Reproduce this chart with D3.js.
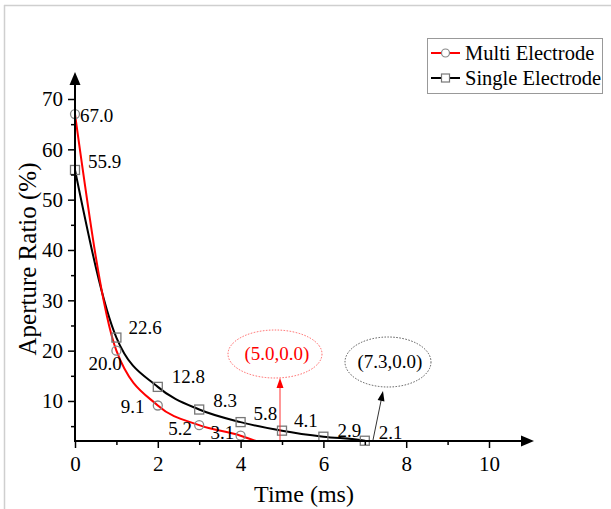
<!DOCTYPE html>
<html>
<head>
<meta charset="utf-8">
<script src="https://cdn.jsdelivr.net/npm/d3@7"></script>
<style>
  body { margin: 0; background: #fff; }
  text { font-family: "Liberation Serif", "Times New Roman", serif; }
</style>
</head>
<body>
<div id="chart"></div>
<script>
var w = 611;
var h = 509;

// data
var times = [0, 1, 2, 3, 4, 5, 6, 7];
var multiValues = [67.0, 20.0, 9.1, 5.2, 3.1];
var singleValues = [55.9, 22.6, 12.8, 8.3, 5.8, 4.1, 2.9, 2.1];
var multiZero = [5.0, 0.0];
var singleZero = [7.3, 0.0];
var xTicks = [0, 2, 4, 6, 8, 10];
var yTicks = [10, 20, 30, 40, 50, 60, 70];
var seriesNames = ["Multi Electrode", "Single Electrode"];

// where each value label sits relative to its point
var multiNudge = [[5, 8], [-28, 19], [-37, 7], [-31, 10], [-30, 3]];
var singleNudge = [[13, -2], [12, -4], [14, -4], [14, -3], [13, -2], [12, -4], [14, 0], [14, -2]];

var x = d3.scaleLinear().domain([0, 10]).range([75, 489]);
var y = d3.scaleLinear().domain([0, 70]).range([451.3, 99]);
var yBase = 2.05; // x axis crosses here

var svg = d3.select("#chart").append("svg")
  .attr("width", w)
  .attr("height", h);

// thin page frame
svg.append("line").attr("x1", 4).attr("x2", w).attr("y1", 5.5).attr("y2", 5.5)
  .attr("stroke", "#cfcfcf").attr("stroke-width", 1.5);
svg.append("line").attr("x1", 4.5).attr("x2", 4.5).attr("y1", 5).attr("y2", h)
  .attr("stroke", "#cfcfcf").attr("stroke-width", 1.5);

svg.append("clipPath").attr("id", "plotclip")
  .append("rect")
  .attr("x", x(0)).attr("y", 60)
  .attr("width", 470).attr("height", y(yBase) - 60);

var multiPts = multiValues.map(function(v, i) { return [times[i], v]; });
var singlePts = singleValues.map(function(v, i) { return [times[i], v]; });

var line = d3.line()
  .x(function(d) { return x(d[0]); })
  .y(function(d) { return y(d[1]); })
  .curve(d3.curveMonotoneX);

var curves = svg.append("g").attr("clip-path", "url(#plotclip)");
curves.append("path")
  .attr("d", line(singlePts.concat([singleZero])))
  .attr("fill", "none")
  .attr("stroke", "#000")
  .attr("stroke-width", 2);
curves.append("path")
  .attr("d", line(multiPts.concat([multiZero])))
  .attr("fill", "none")
  .attr("stroke", "#ff0000")
  .attr("stroke-width", 2);

// markers
svg.selectAll(".sq")
  .data(singlePts)
  .enter()
  .append("rect")
  .attr("x", function(d) { return x(d[0]) - 4.5; })
  .attr("y", function(d) { return y(d[1]) - 4.5; })
  .attr("width", 9)
  .attr("height", 9)
  .attr("fill", "none")
  .attr("stroke", "#777")
  .attr("stroke-width", 1.3);

svg.selectAll(".ci")
  .data(multiPts)
  .enter()
  .append("circle")
  .attr("cx", function(d) { return x(d[0]); })
  .attr("cy", function(d) { return y(d[1]); })
  .attr("r", 4.5)
  .attr("fill", "none")
  .attr("stroke", "#888")
  .attr("stroke-width", 1.3);

// axes
var xAxis = d3.axisBottom(x).tickValues(xTicks).tickSize(7).tickFormat(d3.format("d"));
var gx = svg.append("g").attr("transform", "translate(0," + y(yBase) + ")").call(xAxis);
gx.select(".domain").remove();
gx.selectAll(".tick line").attr("stroke-width", 1.5);
gx.selectAll(".tick text")
  .attr("font-size", 21)
  .attr("fill", "#000")
  .attr("dy", "0.95em");

var xMinor = d3.axisBottom(x).tickValues([1, 3, 5, 7, 9]).tickSize(4).tickFormat("");
var gxm = svg.append("g").attr("transform", "translate(0," + y(yBase) + ")").call(xMinor);
gxm.select(".domain").remove();
gxm.selectAll(".tick line").attr("stroke-width", 1.5);

var yAxis = d3.axisLeft(y).tickValues(yTicks).tickSize(7).tickFormat(d3.format("d"));
var gy = svg.append("g").attr("transform", "translate(" + x(0) + ",0)").call(yAxis);
gy.select(".domain").remove();
gy.selectAll(".tick line").attr("stroke-width", 1.5);
gy.selectAll(".tick text")
  .attr("font-size", 21)
  .attr("fill", "#000")
  .attr("x", -12);

var yMinor = d3.axisLeft(y).tickValues([5, 15, 25, 35, 45, 55, 65]).tickSize(4).tickFormat("");
var gym = svg.append("g").attr("transform", "translate(" + x(0) + ",0)").call(yMinor);
gym.select(".domain").remove();
gym.selectAll(".tick line").attr("stroke-width", 1.5);

// axis lines with arrow heads
svg.append("line")
  .attr("x1", x(0)).attr("x2", 524)
  .attr("y1", y(yBase)).attr("y2", y(yBase))
  .attr("stroke", "#000").attr("stroke-width", 2);
svg.append("path")
  .attr("d", "M521," + (y(yBase) - 5.5) + "L534," + y(yBase) + "L521," + (y(yBase) + 5.5) + "Z")
  .attr("fill", "#000");
svg.append("line")
  .attr("x1", x(0)).attr("x2", x(0))
  .attr("y1", y(yBase) + 1).attr("y2", 82)
  .attr("stroke", "#000").attr("stroke-width", 2);
svg.append("path")
  .attr("d", "M" + (x(0) - 5.5) + ",85L" + x(0) + ",72L" + (x(0) + 5.5) + ",85Z")
  .attr("fill", "#000");

// value labels
svg.selectAll(".ml")
  .data(multiPts)
  .enter()
  .append("text")
  .attr("x", function(d, i) { return x(d[0]) + multiNudge[i][0]; })
  .attr("y", function(d, i) { return y(d[1]) + multiNudge[i][1]; })
  .attr("font-size", 19)
  .text(function(d) { return d[1].toFixed(1); });

svg.selectAll(".sl")
  .data(singlePts)
  .enter()
  .append("text")
  .attr("x", function(d, i) { return x(d[0]) + singleNudge[i][0]; })
  .attr("y", function(d, i) { return y(d[1]) + singleNudge[i][1]; })
  .attr("font-size", 19)
  .text(function(d) { return d[1].toFixed(1); });

// zero-crossing callouts
var callouts = [
  { pt: multiZero, color: "#ff0000", ring: "#ff6060", cx: 275, cy: 354, rx: 47, ry: 24, base: x(multiZero[0]) - 2, tip: [x(multiZero[0]) - 2, 378] },
  { pt: singleZero, color: "#000", ring: "#555", cx: 388, cy: 362, rx: 43, ry: 25, base: 373, tip: [383, 391] }
];
callouts.forEach(function(c) {
  svg.append("ellipse")
    .attr("cx", c.cx).attr("cy", c.cy)
    .attr("rx", c.rx).attr("ry", c.ry)
    .attr("fill", "none")
    .attr("stroke", c.ring)
    .attr("stroke-width", 1)
    .attr("stroke-dasharray", "1.5,1.5");
  svg.append("text")
    .attr("x", c.cx + 2).attr("y", c.cy + 6)
    .attr("text-anchor", "middle")
    .attr("font-size", 19)
    .attr("fill", c.color)
    .text("(" + c.pt[0].toFixed(1) + "," + c.pt[1].toFixed(1) + ")");
  var ang = Math.atan2(c.tip[1] - y(yBase), c.tip[0] - c.base);
  svg.append("line")
    .attr("x1", c.base).attr("y1", y(yBase) - 1)
    .attr("x2", c.tip[0] - 8 * Math.cos(ang)).attr("y2", c.tip[1] - 8 * Math.sin(ang))
    .attr("stroke", c.color === "#000" ? "#333" : "#ff3030")
    .attr("stroke-width", 1);
  var p1 = [c.tip[0] - 10 * Math.cos(ang) + 3.5 * Math.sin(ang), c.tip[1] - 10 * Math.sin(ang) - 3.5 * Math.cos(ang)];
  var p2 = [c.tip[0] - 10 * Math.cos(ang) - 3.5 * Math.sin(ang), c.tip[1] - 10 * Math.sin(ang) + 3.5 * Math.cos(ang)];
  svg.append("path")
    .attr("d", "M" + c.tip + "L" + p1 + "L" + p2 + "Z")
    .attr("fill", c.color);
});

// axis titles
svg.append("text")
  .attr("x", 304).attr("y", 502)
  .attr("text-anchor", "middle")
  .attr("font-size", 24)
  .text("Time (ms)");

svg.append("text")
  .attr("transform", "translate(36,259) rotate(-90)")
  .attr("text-anchor", "middle")
  .attr("font-size", 25)
  .text("Aperture Ratio (%)");

// legend
var legend = svg.append("g");
legend.append("rect")
  .attr("x", 427.5).attr("y", 38.5)
  .attr("width", 175).attr("height", 55)
  .attr("fill", "#fff")
  .attr("stroke", "#999")
  .attr("stroke-width", 1);
var legColors = ["#ff0000", "#000"];
seriesNames.forEach(function(name, i) {
  var ly = 53 + i * 25;
  legend.append("line")
    .attr("x1", 431).attr("x2", 460)
    .attr("y1", ly).attr("y2", ly)
    .attr("stroke", legColors[i]).attr("stroke-width", 2);
  if (i === 0) {
    legend.append("circle").attr("cx", 445.5).attr("cy", ly).attr("r", 4)
      .attr("fill", "#fff").attr("stroke", "#888").attr("stroke-width", 1.2);
  } else {
    legend.append("rect").attr("x", 441.5).attr("y", ly - 4).attr("width", 8).attr("height", 8)
      .attr("fill", "#fff").attr("stroke", "#777").attr("stroke-width", 1.2);
  }
  legend.append("text")
    .attr("x", 465).attr("y", ly + 7)
    .attr("font-size", 20.5)
    .text(name);
});
</script>
</body>
</html>
